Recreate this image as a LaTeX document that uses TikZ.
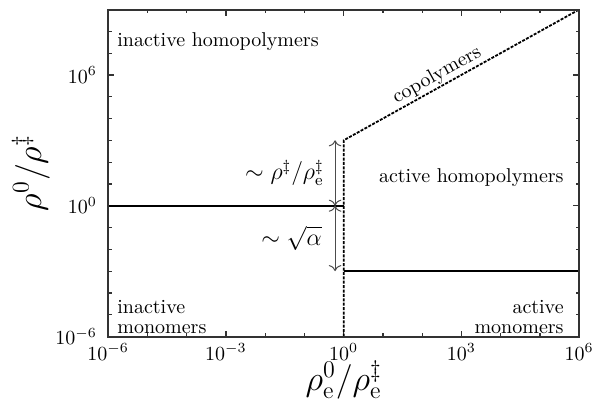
\documentclass[tikz,border=0pt]{standalone}
\usetikzlibrary{arrows.meta}
\begin{document}
\begin{tikzpicture}[x=19.625pt,y=10.9pt,
  frame/.style={draw=black!80, line width=1pt},
  tickline/.style={black!80, line width=0.6pt},
  ticklab/.style={inner sep=0pt, font=\fontsize{10}{12}\selectfont},
  region/.style={inner sep=0pt, font=\fontsize{10}{10}\selectfont},
  axlab/.style={inner sep=0pt, font=\fontsize{17}{20}\selectfont},
  dimlab/.style={inner sep=0pt, font=\fontsize{12}{14}\selectfont},
  boundary/.style={black, line width=0.8pt},
  dboundary/.style={black, line width=0.9pt, dash pattern=on 1.5pt off 0.7pt},
  dimarrow/.style={black!70, line width=0.5pt, {To[length=3pt]}-{To[length=3pt]}}
]
\useasboundingbox (-8.757,-9.005) rectangle (6.326,9.436);
% ticks
\foreach \x in {-5,-4,-2,-1,1,2,4,5} {
  \draw[tickline] (\x,-6) -- ++(0,1.75pt);
  \draw[tickline] (\x,9) -- ++(0,-1.75pt);
}
\foreach \x in {-3,0,3} {
  \draw[tickline] (\x,-6) -- ++(0,3pt);
  \draw[tickline] (\x,9) -- ++(0,-3pt);
}
\foreach \y in {-5,-4,-3,-2,-1,1,2,3,4,5,7,8} {
  \draw[tickline] (-6,\y) -- ++(1.75pt,0);
  \draw[tickline] (6,\y) -- ++(-1.75pt,0);
}
\foreach \y in {0,6} {
  \draw[tickline] (-6,\y) -- ++(3pt,0);
  \draw[tickline] (6,\y) -- ++(-3pt,0);
}
% tick labels
\foreach \x in {-6,-3,0,3,6} {
  \node[ticklab, anchor=north, yshift=-3.5pt] (xt\x) at (\x,-6) {$10^{\x}$};
}
\foreach \y in {-6,0,6} {
  \node[ticklab, anchor=east, xshift=-5.5pt] (yt\y) at (-6,\y) {$10^{\y}$};
}
% coordinates
\coordinate (hl) at (-6,0);
\coordinate (hr) at (0,0);
\coordinate (vb) at (0,-6);
\coordinate (vt) at (0,3);
\coordinate (ct) at (6,9);
\coordinate (ll) at (0,-3);
\coordinate (lr) at (6,-3);
\coordinate (a1) at (-0.22,3);
\coordinate (a2) at (-0.22,0);
\coordinate (a3) at (-0.22,-3);
% boundaries
\draw[boundary] (hl) -- (hr);
\draw[boundary] (ll) -- (lr);
\draw[dboundary] (vb) -- (vt) -- (ct);
\path (vt) -- (ct) node[pos=0.42, sloped, above=1pt, region] (co) {copolymers};
% arrows
\draw[dimarrow] (a1) -- (a2);
\draw[dimarrow] (a2) -- (a3);
\node[dimlab, anchor=east] (l1) at (-0.50,1.5) {$\sim\rho^{\ddagger}/\rho^{\ddagger}_{\mathrm{e}}$};
\node[dimlab, anchor=east] (l2) at (-0.55,-1.5) {$\sim\sqrt{\alpha}$};
% region labels
\node[region, anchor=west] (ih) at (-5.776,7.53) {inactive homopolymers};
\node[region, anchor=west, align=left] (im) at (-5.776,-5.12) {inactive\\monomers};
\node[region, anchor=east, align=right] (am) at (5.613,-5.12) {active\\monomers};
\node[region, anchor=east] (ah) at (5.613,1.27) {active homopolymers};
% axis labels
\node[axlab] (xl) at (0,-8.0) {$\rho^0_{\mathrm{e}}/\rho^{\ddagger}_{\mathrm{e}}$};
\node[axlab, rotate=90] (yl) at (-7.97,1.5) {$\rho^0/\rho^{\ddagger}$};
% frame
\draw[frame] (-6,-6) rectangle (6,9);
\end{tikzpicture}
\end{document}
